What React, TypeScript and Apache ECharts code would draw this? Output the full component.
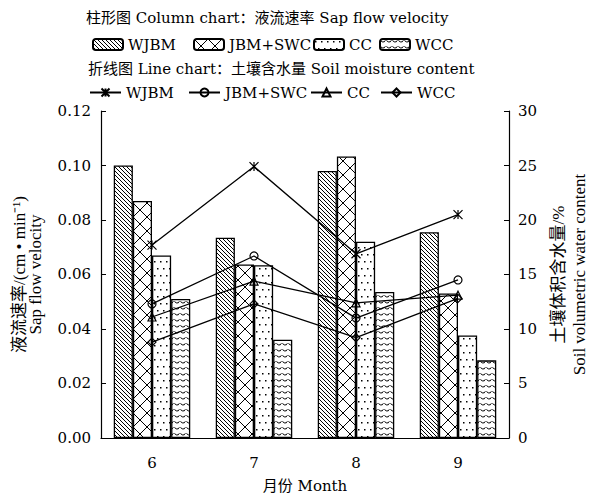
import React, { useEffect, useRef } from 'react';
import * as echarts from 'echarts';

const months = ['6', '7', '8', '9'];
const treatments = ['WJBM', 'JBM+SWC', 'CC', 'WCC'];
// Column chart: sap flow velocity (cm·min-1)
const sapWJBM = [0.1, 0.0735, 0.098, 0.0755];
const sapJBMSWC = [0.087, 0.0637, 0.1033, 0.053];
const sapCC = [0.067, 0.0634, 0.072, 0.0376];
const sapWCC = [0.051, 0.0361, 0.0536, 0.0285];
// Line chart: soil moisture content (%)
const soilWJBM = [17.7, 24.9, 16.9, 20.5];
const soilJBMSWC = [12.3, 16.7, 11.0, 14.5];
const soilCC = [11.1, 14.4, 12.4, 13.1];
const soilWCC = [8.8, 12.3, 9.2, 12.8];

const sapSeries = [sapWJBM, sapJBMSWC, sapCC, sapWCC];
const soilSeries = [soilWJBM, soilJBMSWC, soilCC, soilWCC];
const patternKinds = ['diag', 'cross', 'dots', 'wave'];
const lineSymbols = [
  'path://M0,0L10,10M10,0L0,10M5,0L5,10',
  'circle',
  'triangle',
  'diamond',
];

const HFONT = "'DejaVu Serif', 'Noto Sans CJK SC', serif";
const VFONT = "'Liberation Serif', 'Noto Sans CJK SC', serif";

function makePattern(kind: string) {
  const c = document.createElement('canvas');
  let w = 4, h = 4;
  if (kind === 'cross') { w = 14; h = 14; }
  if (kind === 'dots') { w = 6; h = 14; }
  if (kind === 'wave') { w = 6; h = 6; }
  c.width = w; c.height = h;
  const ctx = c.getContext('2d') as CanvasRenderingContext2D;
  ctx.fillStyle = '#fff';
  ctx.fillRect(0, 0, w, h);
  ctx.strokeStyle = '#000';
  ctx.fillStyle = '#000';
  ctx.lineWidth = 1;
  ctx.beginPath();
  if (kind === 'diag') {
    ctx.moveTo(-1, -1); ctx.lineTo(w + 1, h + 1);
    ctx.moveTo(-1, h - 1); ctx.lineTo(1, h + 1);
    ctx.moveTo(w - 1, -1); ctx.lineTo(w + 1, 1);
    ctx.stroke();
  } else if (kind === 'cross') {
    ctx.moveTo(-1, -1); ctx.lineTo(w + 1, h + 1);
    ctx.moveTo(w + 1, -1); ctx.lineTo(-1, h + 1);
    ctx.stroke();
  } else if (kind === 'dots') {
    ctx.fillRect(1, 2, 1.5, 1.5);
    ctx.fillRect(4, 9, 1.5, 1.5);
  } else if (kind === 'wave') {
    ctx.arc(w / 2, 0.5, w / 2 - 0.5, 0.1 * Math.PI, 0.9 * Math.PI);
    ctx.stroke();
  }
  return { image: c.toDataURL(), imageWidth: w, imageHeight: h, repeat: 'repeat' };
}

const barLegendLeft = [92, 193, 313, 379];
const lineLegendLeft = [89, 188, 310, 380];

export default function App() {
  const ref = useRef<HTMLDivElement>(null);
  useEffect(() => {
    if (!ref.current) return;
    const chart = echarts.init(ref.current, null, { renderer: 'svg' });
    const textStyle = { fontFamily: HFONT, fontSize: 15, color: '#000' };

    const barSeries = treatments.map((t, i) => ({
      name: t,
      type: 'bar',
      yAxisIndex: 0,
      data: sapSeries[i],
      barGap: '0%',
      barCategoryGap: '25%',
      itemStyle: {
        color: makePattern(patternKinds[i]),
        borderColor: '#000',
        borderWidth: 1.3,
      },
      z: 2,
    }));
    const lineSeries = treatments.map((t, i) => ({
      name: 'L-' + t,
      type: 'line',
      yAxisIndex: 1,
      data: soilSeries[i],
      symbol: lineSymbols[i],
      symbolSize: i === 0 ? 9 : 8,
      lineStyle: { color: '#000', width: 1.3 },
      itemStyle: { color: 'rgba(255,255,255,0)', borderColor: '#000', borderWidth: 1.2 },
      z: 5,
    }));

    chart.setOption({
      animation: false,
      backgroundColor: '#fff',
      title: [
        {
          text: '柱形图 Column chart：液流速率 Sap flow velocity',
          left: 86, top: 10, padding: 0,
          textStyle: { ...textStyle, fontWeight: 'normal' },
        },
        {
          text: '折线图 Line chart：土壤含水量 Soil moisture content',
          left: 88, top: 61, padding: 0,
          textStyle: { ...textStyle, fontWeight: 'normal' },
        },
      ],
      legend: [
        ...treatments.map((t, i) => ({
          data: [t],
          left: barLegendLeft[i],
          top: 37,
          padding: 0,
          itemWidth: 30,
          itemHeight: 11,
          itemGap: 0,
          selectedMode: false,
          textStyle,
        })),
        ...treatments.map((t, i) => ({
          data: ['L-' + t],
          left: lineLegendLeft[i],
          top: 85,
          padding: 0,
          itemWidth: 31,
          itemHeight: 10,
          itemGap: 0,
          selectedMode: false,
          formatter: (n: string) => n.slice(2),
          textStyle,
        })),
      ],
      grid: { left: 101, right: 85, top: 111, bottom: 57, containLabel: false },
      xAxis: {
        type: 'category',
        data: months,
        axisLine: { lineStyle: { color: '#000', width: 1.2 } },
        axisTick: { inside: true, length: 4, lineStyle: { color: '#000' } },
        axisLabel: { ...textStyle, margin: 17 },
        name: '月份 Month',
        nameLocation: 'middle',
        nameGap: 40,
        nameTextStyle: textStyle,
      },
      yAxis: [
        {
          type: 'value',
          min: 0, max: 0.12, interval: 0.02,
          position: 'left',
          axisLine: { show: true, lineStyle: { color: '#000', width: 1.2 } },
          axisTick: { show: true, inside: true, length: 5, lineStyle: { color: '#000' } },
          splitLine: { show: false },
          axisLabel: { ...textStyle, margin: 10, formatter: (v: number) => v.toFixed(2) },
          name: '液流速率/(cm • min⁻¹)\nSap flow velocity',
          nameLocation: 'middle',
          nameRotate: 90,
          nameGap: 58,
          nameTextStyle: { fontFamily: VFONT, fontSize: 17, color: '#000', lineHeight: 16 },
        },
        {
          type: 'value',
          min: 0, max: 30, interval: 5,
          position: 'right',
          axisLine: { show: true, lineStyle: { color: '#000', width: 1.2 } },
          axisTick: { show: true, inside: true, length: 5, lineStyle: { color: '#000' } },
          splitLine: { show: false },
          axisLabel: { ...textStyle, margin: 9 },
          name: '土壤体积含水量/%\nSoil volumetric water content',
          nameLocation: 'middle',
          nameRotate: 90,
          nameGap: 36,
          nameTextStyle: { fontFamily: VFONT, fontSize: 17, color: '#000', lineHeight: 21 },
        },
      ],
      series: [...barSeries, ...lineSeries],
    });
    return () => chart.dispose();
  }, []);
  return (
    <div
      ref={ref}
      style={{ position: 'fixed', left: 0, top: 0, width: 598, height: 498 }}
    />
  );
}
